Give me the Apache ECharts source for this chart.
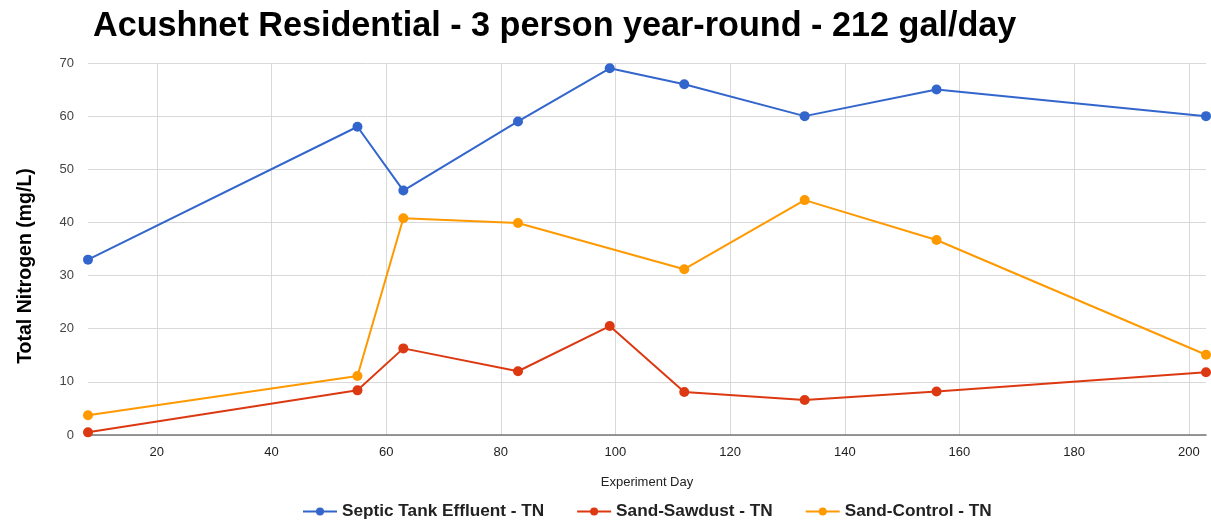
<!DOCTYPE html>
<html>
<head>
<meta charset="utf-8">
<script src="https://cdn.jsdelivr.net/npm/echarts@6/dist/echarts.min.js"></script>
<style>
  html, body { margin: 0; padding: 0; background: #fff; }
  #chart { width: 1211px; height: 523px; }
</style>
</head>
<body>
<div id="chart"></div>
<script>
// experiment days (x) and total nitrogen readings (mg/L)
const days = [8, 55, 63, 83, 99, 112, 133, 156, 203]
const septicTN = [33, 58, 46, 59, 69, 66, 60, 65, 60]
const sawdustTN = [0.5, 8.4, 16.3, 12, 20.5, 8.1, 6.6, 8.2, 11.8]
const controlTN = [3.7, 11.1, 40.8, 39.9, 31.2, 44.2, 36.7, 15.1]
const controlDays = [8, 55, 63, 83, 112, 133, 156, 203]
const xTicks = [20, 40, 60, 80, 100, 120, 140, 160, 180, 200]

const seriesNames = ['Septic Tank Effluent - TN', 'Sand-Sawdust - TN', 'Sand-Control - TN']
const colors = ['#3366cc', '#dc3912', '#ff9900']

const chart = echarts.init(document.getElementById('chart'))

function pairs(xs, ys) {
  return ys.map((v, i) => [xs[i], v])
}

function lineSeries(name, data, color) {
  return {
    name: name,
    type: 'line',
    data: data,
    symbol: 'circle',
    symbolSize: 10,
    color: color,
    lineStyle: { width: 2, color: color },
    itemStyle: { color: color },
    emphasis: { disabled: true },
    animation: false
  }
}

const option = {
  backgroundColor: '#fff',
  textStyle: { fontFamily: 'Liberation Sans, Arial, sans-serif' },
  title: {
    text: 'Acushnet Residential - 3 person year-round - 212 gal/day',
    left: 88,
    top: 5,
    textStyle: { fontSize: 34.2, fontWeight: 'bold', color: '#000' }
  },
  legend: {
    left: 297,
    top: 498,
    itemWidth: 34,
    itemHeight: 10,
    itemGap: 32,
    textStyle: { fontSize: 17.2, fontWeight: 'bold', color: '#222' },
    data: seriesNames
  },
  grid: { left: 88, right: 5, top: 63, bottom: 88 },
  xAxis: {
    type: 'value',
    min: 8,
    max: 203,
    name: 'Experiment Day',
    nameLocation: 'middle',
    nameGap: 41,
    nameTextStyle: { fontSize: 13, color: '#222' },
    axisLine: { show: true, lineStyle: { color: '#777', width: 1.5 } },
    axisTick: { show: false, customValues: xTicks },
    axisLabel: { customValues: xTicks, fontSize: 13, color: '#222', margin: 11 },
    splitLine: { show: true, lineStyle: { color: '#d9d9d9' } }
  },
  yAxis: {
    type: 'value',
    min: 0,
    max: 70,
    interval: 10,
    name: 'Total Nitrogen (mg/L)',
    nameLocation: 'middle',
    nameGap: 52,
    nameTextStyle: { fontSize: 19.5, fontWeight: 'bold', color: '#000', padding: [0, 34, 0, 0] },
    axisLine: { show: false },
    axisTick: { show: false },
    axisLabel: { fontSize: 13, color: '#444', margin: 14 },
    splitLine: { show: true, lineStyle: { color: '#d9d9d9' } }
  },
  series: [
    lineSeries(seriesNames[0], pairs(days, septicTN), colors[0]),
    lineSeries(seriesNames[1], pairs(days, sawdustTN), colors[1]),
    lineSeries(seriesNames[2], pairs(controlDays, controlTN), colors[2])
  ]
}

chart.setOption(option)
window.addEventListener('resize', () => chart.resize())
</script>
</body>
</html>
